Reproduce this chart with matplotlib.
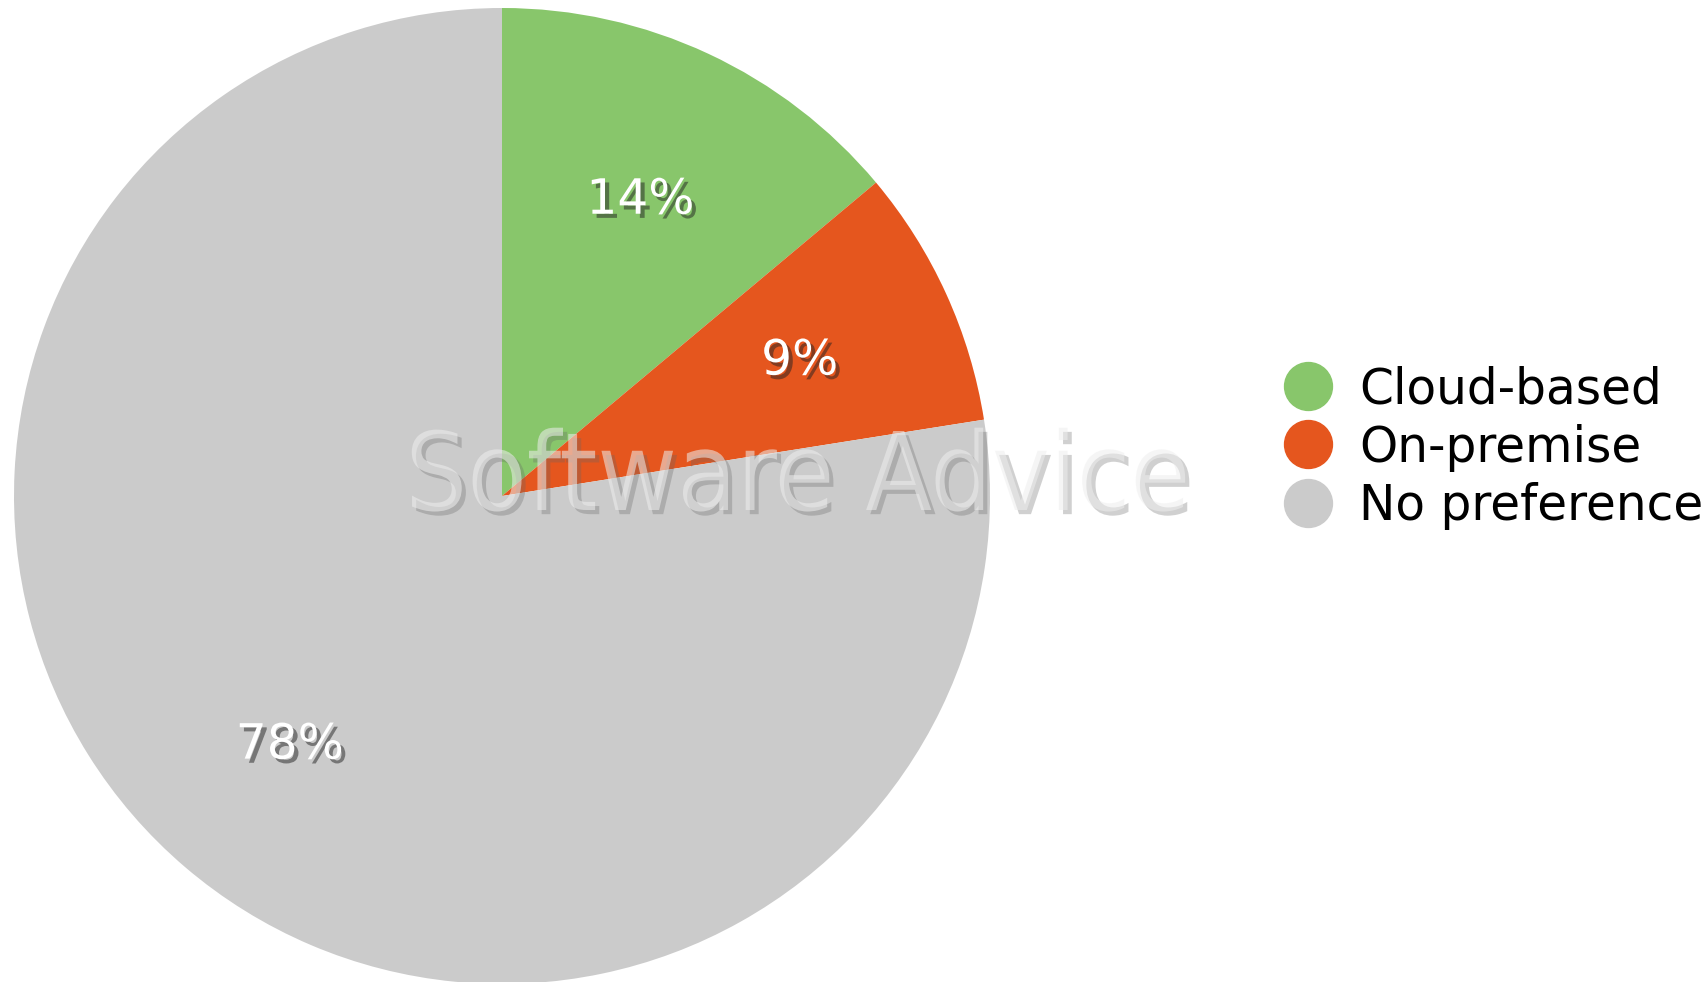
import matplotlib
matplotlib.use("Agg")
import matplotlib.pyplot as plt
import matplotlib.patheffects as pe
from matplotlib.lines import Line2D

# Данные (доли прочитаны по углам секторов)
categories = ["Cloud-based", "On-premise", "No preference"]
values = [13.9, 8.6, 77.5]
colors = ["#88c66b", "#e5561e", "#cbcbcb"]
pct_labels = [f"{round(v)}%" for v in values]

W, H = 1708, 982
fig = plt.figure(figsize=(W / 100, H / 100), dpi=100)

# Pie: center ~ (502, 496) px, radius ~ 488 px
cx, cy, r = 502, 496, 488
ax = fig.add_axes([(cx - r) / W, (H - cy - r) / H, 2 * r / W, 2 * r / H])

wedges, texts = ax.pie(
    values,
    colors=colors,
    labels=pct_labels,
    labeldistance=0.67,
    startangle=90,
    counterclock=False,
    radius=1.0,
    wedgeprops={"linewidth": 0},
)
ax.set_xlim(-1, 1)
ax.set_ylim(-1, 1)
ax.set_aspect("equal")

shadow = [pe.SimplePatchShadow(offset=(3, -3), shadow_rgbFace="#222222", alpha=0.5), pe.Normal()]
for t in texts:
    t.set_ha("center")
    t.set_va("center")
    t.set_color("white")
    t.set_fontsize(35)
    t.set_path_effects(shadow)

# водяной знак
fig.text(798 / W, 1 - 480 / H, "Software Advice", fontsize=78, color="#eeeeee",
         alpha=0.55, ha="center", va="center", fontstretch="condensed",
         path_effects=[pe.SimplePatchShadow(offset=(3, -3), shadow_rgbFace="#666666", alpha=0.3),
                       pe.Normal()])

# Легенда
handles = [Line2D([], [], marker="o", ls="", color=c, markersize=34.5) for c in colors]
fig.legend(
    handles, categories,
    loc="center left",
    bbox_to_anchor=(1284 / W, 1 - 447.5 / H),
    frameon=False,
    fontsize=35,
    borderpad=0,
    borderaxespad=0,
    handlelength=1.0,
    handletextpad=0.55,
    labelspacing=0.21,
)

fig.savefig("out.png", dpi=100)
